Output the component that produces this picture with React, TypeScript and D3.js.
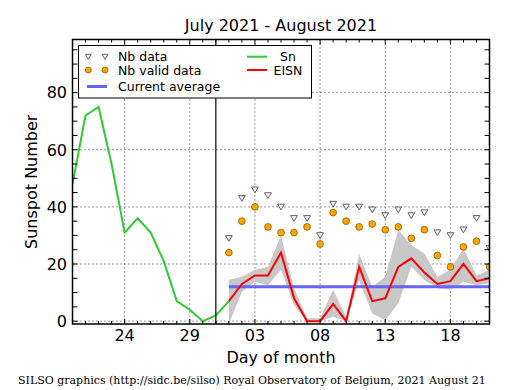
import React from "react";
import * as d3 from "d3";

// Day index: 0 = 2021-07-20
const snDays = [0, 1, 2, 3, 4, 5, 6, 7, 8, 9, 10, 11, 12];
const snValues = [48, 72, 75, 55, 31, 36, 31, 21, 7, 4, 0, 2, 7];

const eisnDays = [12, 13, 14, 15, 16, 17, 18, 19, 20, 21, 22, 23, 24, 25, 26, 27, 28, 29, 30, 31, 32];
const eisnValues = [7, 13, 16, 16, 24, 8, 0, 0, 6, 0, 19, 7, 8, 19, 22, 17, 13, 14, 20, 14, 15];
const bandUpper = [14.5, 15.5, 18, 19, 30, 11.5, 1, 1, 11, 1.5, 23.5, 12, 15.5, 32, 26.7, 23.7, 15.5, 18, 25.5, 16, 18];
const bandLower = [-1, 10.3, 13.8, 12.6, 18, 5.6, 0, 0, 1.5, 0, 14.2, 2.7, 0.3, 6.2, 19, 14.4, 11.5, 11, 13.8, 12.6, 13.3];
const nbData = [29, 43, 46, 44, 40, 36, 36, 30, 41, 40, 40, 39, 37, 39, 37, 38, 31, 30, 32, 36, 25.5];
const nbValid = [24, 35, 40, 33, 31, 31, 33, 27, 38, 35, 33, 34, 32, 33, 29, 32, 23, 19, 26, 28, 19];
const currentAverage = 12;
const monthBoundary = 11;

const xTickDays = [4, 9, 14, 19, 24, 29];
const xTickLabels = ["24", "29", "03", "08", "13", "18"];
const yTicks = [0, 20, 40, 60, 80];

const W = 515, H = 390;
const L = 72.5, R = 489.5, T = 39.5, B = 324;
const FONT = "DejaVu Sans, sans-serif";
const BLUE = "#6464ff";
const GREEN = "#2ecc2e";

export default function App() {
  const x = d3.scaleLinear().domain([0, 32]).range([L, R]);
  const y = d3.scaleLinear().domain([-1, 98.6]).range([B, T]);

  const snLine = d3.line<number>().x((d, i) => x(snDays[i])).y((d) => y(d));
  const eisnLine = d3.line<number>().x((d, i) => x(eisnDays[i])).y((d) => y(d));
  const band = d3
    .area<number>()
    .x((d, i) => x(eisnDays[i]))
    .y0((d, i) => y(bandLower[i]))
    .y1((d) => y(d));

  const minorX = d3.range(0, 33);
  const minorY = d3.range(0, 99, 5);
  const tri = (cx: number, cy: number, s = 3.4) =>
    `M${cx - s},${cy - s * 0.8}L${cx + s},${cy - s * 0.8}L${cx},${cy + s * 0.9}Z`;

  return (
    <svg width={W} height={H} style={{ position: "absolute", left: 0, top: 0, background: "#fff" }} fontFamily={FONT}>
      <defs>
        <clipPath id="plot">
          <rect x={L} y={T} width={R - L} height={B - T} />
        </clipPath>
      </defs>
      <rect x={0} y={0} width={W} height={H} fill="#fff" />
      <text x={(L + R) / 2} y={31} textAnchor="middle" fontSize={16} fill="#000">
        July 2021 - August 2021
      </text>

      {/* grid */}
      <g stroke="#000" strokeWidth={0.8} strokeDasharray="1,3">
        {xTickDays.map((d) => (
          <line key={"gx" + d} x1={x(d)} x2={x(d)} y1={T} y2={B} />
        ))}
        {yTicks.map((v) => (
          <line key={"gy" + v} x1={L} x2={R} y1={y(v)} y2={y(v)} />
        ))}
      </g>

      <g clipPath="url(#plot)">
        <path d={band(bandUpper) || ""} fill="#c8c8c8" stroke="none" />
        <line x1={x(eisnDays[0])} x2={x(eisnDays[eisnDays.length - 1])} y1={y(currentAverage)} y2={y(currentAverage)} stroke={BLUE} strokeWidth={3} />
        <path d={snLine(snValues) || ""} fill="none" stroke={GREEN} strokeWidth={2} />
        <path d={eisnLine(eisnValues) || ""} fill="none" stroke="#ff0000" strokeWidth={2} />
        {nbData.map((v, i) => (
          <path key={"t" + i} d={tri(x(eisnDays[i]), y(v))} fill="#f4f4f4" stroke="#555" strokeWidth={0.9} />
        ))}
        {nbValid.map((v, i) => (
          <circle key={"c" + i} cx={x(eisnDays[i])} cy={y(v)} r={3.4} fill="#ffa500" stroke="#7a5000" strokeWidth={0.7} />
        ))}
      </g>

      <line x1={x(monthBoundary)} x2={x(monthBoundary)} y1={T} y2={B} stroke="#000" strokeWidth={1.2} />

      {/* ticks */}
      <g stroke="#000" strokeWidth={1}>
        {minorX.map((d) => {
          const major = xTickDays.includes(d);
          const len = major ? 5 : 3;
          return (
            <g key={"tx" + d}>
              <line x1={x(d)} x2={x(d)} y1={B} y2={B - len} />
              <line x1={x(d)} x2={x(d)} y1={T} y2={T + len} />
            </g>
          );
        })}
        {minorY.map((v) => {
          const len = 5;
          return (
            <g key={"ty" + v}>
              <line x1={L} x2={L + len} y1={y(v)} y2={y(v)} />
              <line x1={R} x2={R - len} y1={y(v)} y2={y(v)} />
            </g>
          );
        })}
      </g>

      <rect x={L} y={T} width={R - L} height={B - T} fill="none" stroke="#000" strokeWidth={1.5} />

      {/* tick labels */}
      {xTickDays.map((d, i) => (
        <text key={"lx" + d} x={x(d)} y={341} textAnchor="middle" fontSize={16} fill="#000">
          {xTickLabels[i]}
        </text>
      ))}
      {yTicks.map((v) => (
        <text key={"ly" + v} x={67} y={y(v) + 5.8} textAnchor="end" fontSize={16} fill="#000">
          {v}
        </text>
      ))}
      <text x={(L + R) / 2} y={362.5} textAnchor="middle" fontSize={16} fill="#000">
        Day of month
      </text>
      <text transform={`translate(37,${(T + B) / 2}) rotate(-90)`} textAnchor="middle" fontSize={16} fill="#000">
        Sunspot Number
      </text>

      {/* legend */}
      <g>
        <rect x={78.5} y={45.5} width={233} height={52.5} fill="#fff" stroke="#000" strokeWidth={1} />
        <path d={tri(88.3, 56.7, 3)} fill="#f4f4f4" stroke="#555" strokeWidth={0.9} />
        <path d={tri(105, 56.7, 3)} fill="#f4f4f4" stroke="#555" strokeWidth={0.9} />
        <text x={118} y={61} fontSize={12.5} fill="#000">Nb data</text>
        <circle cx={88.3} cy={70} r={3} fill="#ffa500" stroke="#7a5000" strokeWidth={0.7} />
        <circle cx={105} cy={70} r={3} fill="#ffa500" stroke="#7a5000" strokeWidth={0.7} />
        <text x={118} y={74.5} fontSize={12.5} fill="#000">Nb valid data</text>
        <line x1={87} x2={107} y1={86.5} y2={86.5} stroke={BLUE} strokeWidth={3} />
        <text x={118} y={91} fontSize={12.5} fill="#000">Current average</text>
        <line x1={247} x2={267} y1={56.7} y2={56.7} stroke={GREEN} strokeWidth={2} />
        <text x={280} y={61} fontSize={12.5} fill="#000">Sn</text>
        <line x1={247} x2={267} y1={70} y2={70} stroke="#ff0000" strokeWidth={2} />
        <text x={273.5} y={74.5} fontSize={12.5} fill="#000">EISN</text>
      </g>

      <text x={18} y={384} fontSize={11} fontFamily="DejaVu Serif, serif" fill="#000">
        SILSO graphics (http://sidc.be/silso) Royal Observatory of Belgium, 2021 August 21
      </text>
    </svg>
  );
}
